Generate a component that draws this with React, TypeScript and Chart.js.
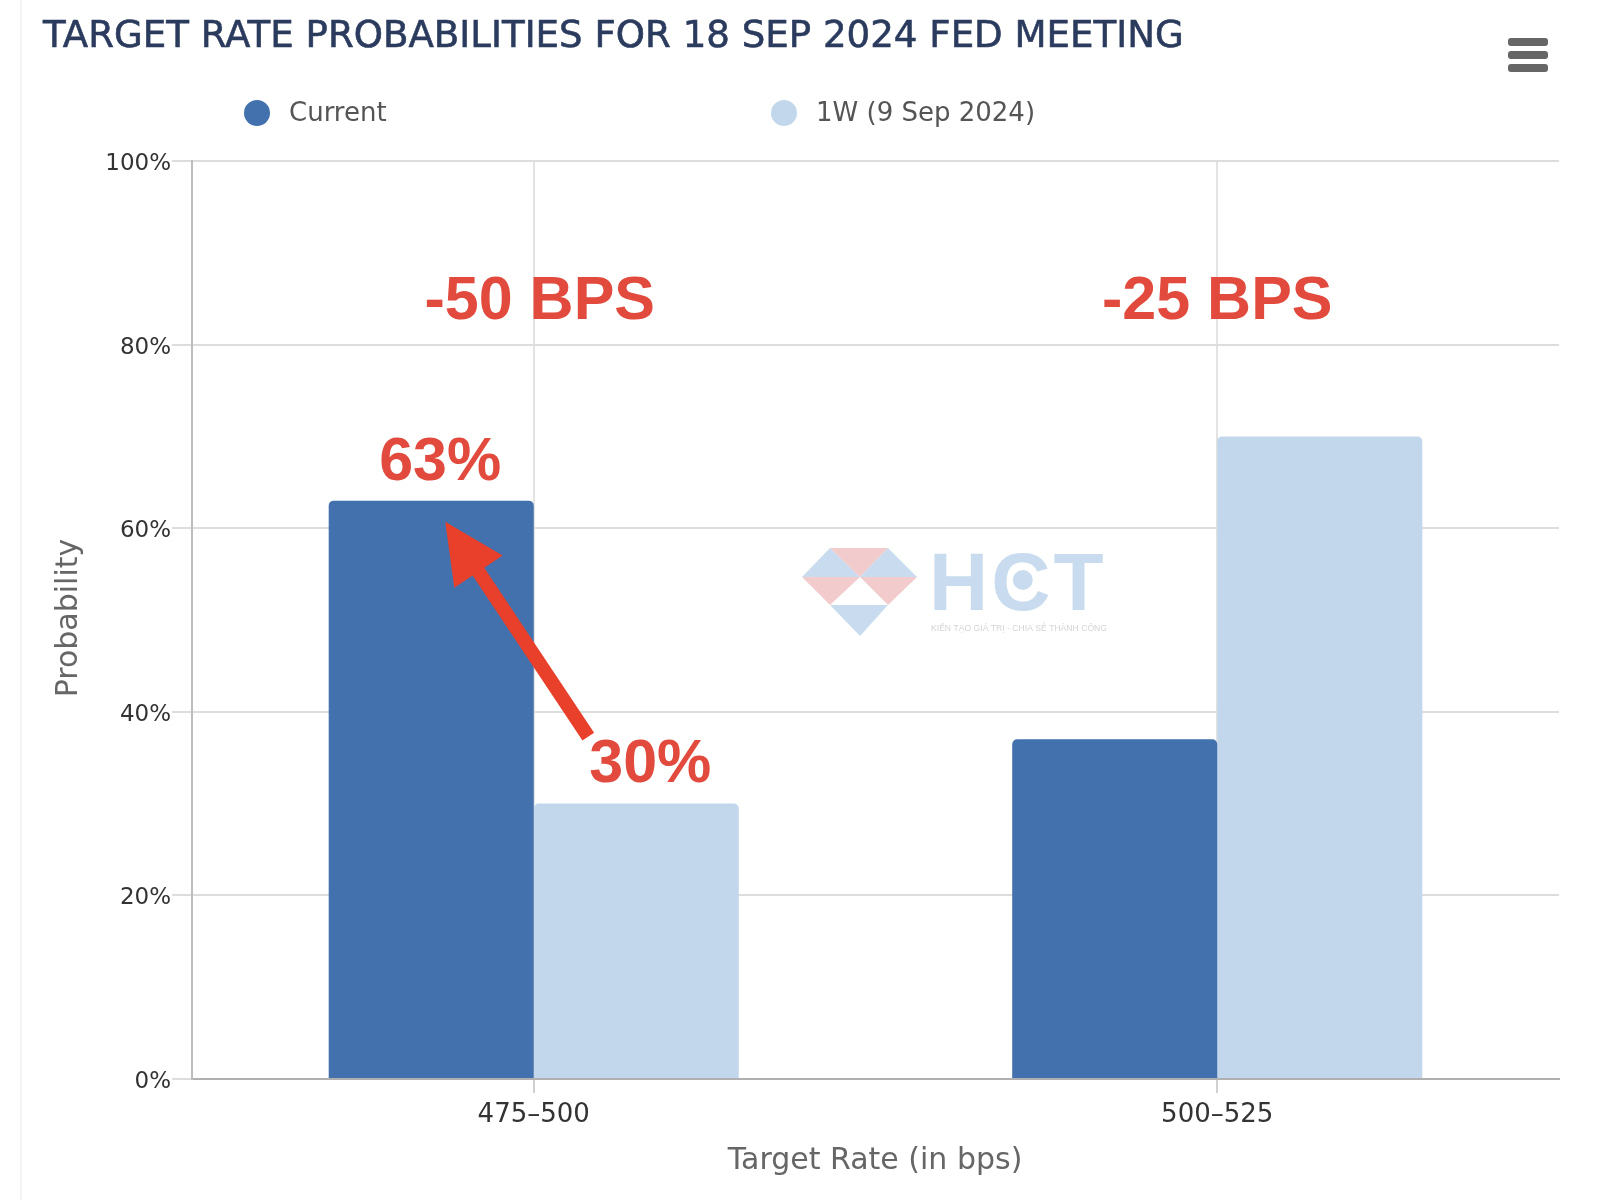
import React, { useEffect, useRef } from "react";
import { Chart, registerables } from "chart.js";

Chart.register(...registerables);

const TITLE = "TARGET RATE PROBABILITIES FOR 18 SEP 2024 FED MEETING";
const categories = ["475–500", "500–525"];
const seriesNames = ["Current", "1W (9 Sep 2024)"];
const currentValues = [63, 37];
const weekAgoValues = [30, 70];
const yTickValues = [0, 20, 40, 60, 80, 100];
const groupNotes = ["-50 BPS", "-25 BPS"];
const xTitle = "Target Rate (in bps)";
const yTitle = "Probability";
const watermarkText = "HCT";
const watermarkTagline = "KIẾN TẠO GIÁ TRỊ - CHIA SẺ THÀNH CÔNG";
const seriesColors = ["#4271ae", "#c3d7ec"];

const FONT = "'DejaVu Sans', 'Open Sans', sans-serif";
const BOLD = "'Liberation Sans', Arial, sans-serif";
const RED_TEXT = "#e14a3c";
const RED_ARROW = "#e8402a";

function fitFont(ctx: CanvasRenderingContext2D, text: string, weight: string, family: string, base: number, target: number) {
  ctx.font = `${weight} ${base}px ${family}`;
  const w = ctx.measureText(text).width;
  const size = base * (target / w);
  ctx.font = `${weight} ${size}px ${family}`;
  return size;
}

const overlay = {
  id: "overlay",
  beforeDraw(chart: any) {
    const ctx = chart.ctx as CanvasRenderingContext2D;
    ctx.save();
    ctx.fillStyle = "#ffffff";
    ctx.fillRect(0, 0, chart.width, chart.height);
    ctx.strokeStyle = "#f0f0f0";
    ctx.lineWidth = 1.5;
    ctx.beginPath();
    ctx.moveTo(21, 0);
    ctx.lineTo(21, chart.height);
    ctx.stroke();
    ctx.restore();
  },
  beforeDatasetsDraw(chart: any) {
    const ctx = chart.ctx as CanvasRenderingContext2D;
    ctx.save();
    const blue = "#c9dbee";
    const pink = "#f2cccc";
    const A = [830, 548], B = [888, 548], L = [802, 577], M = [860, 577], R = [917, 577];
    const P = [830, 605], Q = [888, 605], T = [860, 636];
    const tri = (p: number[], q: number[], r: number[], c: string) => {
      ctx.fillStyle = c;
      ctx.beginPath();
      ctx.moveTo(p[0], p[1]);
      ctx.lineTo(q[0], q[1]);
      ctx.lineTo(r[0], r[1]);
      ctx.closePath();
      ctx.fill();
    };
    tri(A, L, M, blue);
    tri(A, B, M, pink);
    tri(B, M, R, blue);
    tri(L, M, P, pink);
    tri(M, R, Q, pink);
    tri(P, Q, T, blue);
    ctx.fillStyle = blue;
    ctx.font = `bold 82px ${BOLD}`;
    (ctx as any).letterSpacing = "3px";
    ctx.textBaseline = "alphabetic";
    ctx.textAlign = "left";
    const x0 = 929;
    ctx.fillText(watermarkText, x0, 610);
    (ctx as any).letterSpacing = "0px";
    const wH = ctx.measureText(watermarkText.slice(0, 1)).width;
    const wC = ctx.measureText(watermarkText.slice(1, 2)).width;
    ctx.beginPath();
    ctx.arc(x0 + wH + 3 + wC / 2 + 2, 580, 10, 0, Math.PI * 2);
    ctx.fill();
    ctx.fillStyle = "#d4d4d4";
    ctx.font = `9px ${BOLD}`;
    ctx.fillText(watermarkTagline, 931, 631, 176);
    ctx.restore();
  },
  afterDraw(chart: any) {
    const ctx = chart.ctx as CanvasRenderingContext2D;
    const xs = chart.scales.x;
    const ys = chart.scales.y;
    ctx.save();

    // title
    ctx.fillStyle = "#2b3b5e";
    ctx.strokeStyle = "#2b3b5e";
    ctx.lineWidth = 0.6;
    ctx.textBaseline = "middle";
    ctx.textAlign = "left";
    fitFont(ctx, TITLE, "normal", FONT, 37, 1141);
    ctx.fillText(TITLE, 43, 37);
    ctx.strokeText(TITLE, 43, 37);

    // menu icon
    ctx.fillStyle = "#666666";
    [38, 51, 64].forEach((y) => {
      ctx.beginPath();
      (ctx as any).roundRect(1508, y, 40, 8, 3);
      ctx.fill();
    });

    // legend
    const legendDots = [257, 784];
    const legendText = [289, 816];
    seriesNames.forEach((name, i) => {
      ctx.fillStyle = seriesColors[i];
      ctx.beginPath();
      ctx.arc(legendDots[i], 113, 13, 0, Math.PI * 2);
      ctx.fill();
      ctx.fillStyle = "#555555";
      ctx.font = `26px ${FONT}`;
      ctx.textAlign = "left";
      ctx.textBaseline = "middle";
      ctx.fillText(name, legendText[i], 114);
    });

    // axis titles
    ctx.fillStyle = "#666666";
    ctx.font = `30px ${FONT}`;
    ctx.textAlign = "center";
    ctx.textBaseline = "middle";
    ctx.fillText(xTitle, 875, 1161);
    ctx.save();
    ctx.translate(69, 618);
    ctx.rotate(-Math.PI / 2);
    ctx.fillText(yTitle, 0, 0);
    ctx.restore();

    // group notes
    ctx.fillStyle = RED_TEXT;
    ctx.font = `bold 61px ${BOLD}`;
    const noteDx = [6, 0];
    groupNotes.forEach((note, i) => {
      ctx.fillText(note, xs.getPixelForValue(i) + noteDx[i], ys.getPixelForValue(85) + 3);
    });

    // value labels on first category
    const m0 = chart.getDatasetMeta(0).data[0];
    const m1 = chart.getDatasetMeta(1).data[0];
    ctx.fillText(`${currentValues[0]}%`, m0.x + 9, m0.y - 37);
    ctx.fillText(`${weekAgoValues[0]}%`, m1.x + 14, m1.y - 38);

    // arrow from 30% to 63%
    const tail = [m1.x - 48, m1.y - 67];
    const tip = [m0.x + 14, m0.y + 21];
    const dx = tip[0] - tail[0];
    const dy = tip[1] - tail[1];
    const len = Math.hypot(dx, dy);
    const ux = dx / len, uy = dy / len;
    const nx = -uy, ny = ux;
    const headLen = 60, headHalf = 29;
    const bx = tip[0] - ux * headLen, by = tip[1] - uy * headLen;
    ctx.strokeStyle = RED_ARROW;
    ctx.lineWidth = 14;
    ctx.lineCap = "butt";
    ctx.beginPath();
    ctx.moveTo(tail[0], tail[1]);
    ctx.lineTo(bx + ux * 4, by + uy * 4);
    ctx.stroke();
    ctx.fillStyle = RED_ARROW;
    ctx.beginPath();
    ctx.moveTo(tip[0], tip[1]);
    ctx.lineTo(bx + nx * headHalf, by + ny * headHalf);
    ctx.lineTo(bx - nx * headHalf, by - ny * headHalf);
    ctx.closePath();
    ctx.fill();

    ctx.restore();
  },
};

export default function App() {
  const ref = useRef<HTMLCanvasElement | null>(null);
  useEffect(() => {
    if (!ref.current) return;
    Chart.defaults.font.family = FONT;
    const chart = new Chart(ref.current, {
      type: "bar",
      data: {
        labels: categories,
        datasets: [
          {
            label: seriesNames[0],
            data: currentValues,
            backgroundColor: seriesColors[0],
            borderRadius: { topLeft: 5, topRight: 5, bottomLeft: 0, bottomRight: 0 },
            borderSkipped: "bottom",
            categoryPercentage: 0.6,
            barPercentage: 1.0,
          },
          {
            label: seriesNames[1],
            data: weekAgoValues,
            backgroundColor: seriesColors[1],
            borderRadius: { topLeft: 5, topRight: 5, bottomLeft: 0, bottomRight: 0 },
            borderSkipped: "bottom",
            categoryPercentage: 0.6,
            barPercentage: 1.0,
          },
        ],
      },
      options: {
        animation: false,
        responsive: false,
        devicePixelRatio: 1,
        layout: { padding: { left: 0, top: 161, right: 41, bottom: 0 } },
        plugins: {
          legend: { display: false },
          title: { display: false },
          tooltip: { enabled: false },
        },
        scales: {
          x: {
            offset: true,
            grid: {
              offset: false,
              color: "#e3e3e3",
              lineWidth: 2,
              tickLength: 14,
              tickColor: "#d0d0d0",
            },
            border: { color: "#b0b0b0", width: 2 },
            ticks: { color: "#333333", font: { size: 26 }, padding: 7 },
            afterFit: (s: any) => {
              s.height = 121;
            },
          },
          y: {
            min: 0,
            max: 100,
            afterBuildTicks: (s: any) => {
              s.ticks = yTickValues.map((v) => ({ value: v }));
            },
            grid: { color: "#dddddd", lineWidth: 2, tickLength: 20, tickColor: "#dddddd" },
            border: { color: "#bdbdbd", width: 2 },
            ticks: {
              color: "#333333",
              font: { size: 23 },
              padding: 1,
              labelOffset: 3,
              callback: (v: any) => `${v}%`,
            },
            afterFit: (s: any) => {
              s.width = 192;
            },
          },
        },
      },
      plugins: [overlay],
    } as any);
    return () => chart.destroy();
  }, []);
  return (
    <div style={{ position: "absolute", left: 0, top: 0, width: 1600, height: 1200, background: "#fff" }}>
      <canvas ref={ref} width={1600} height={1200} style={{ width: 1600, height: 1200, display: "block" }} />
    </div>
  );
}
